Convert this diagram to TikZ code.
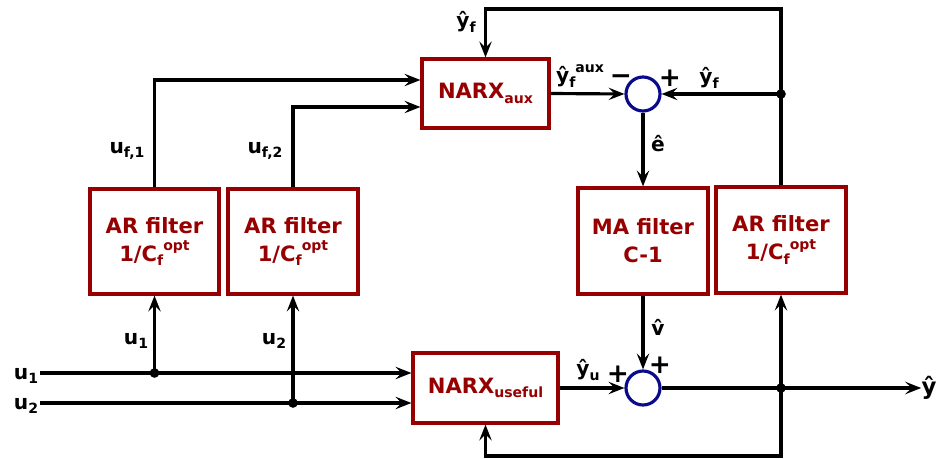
\documentclass[tikz,border=0pt]{standalone}
\usepackage{fontspec}
\setmainfont{DejaVu Sans}
\usetikzlibrary{arrows.meta}
\definecolor{boxred}{RGB}{150,0,0}
\definecolor{sumblue}{RGB}{10,10,140}
\newcommand\sbx[1]{\raisebox{-0.4ex}{\fontsize{8}{8}\selectfont #1}}
\newcommand\spx[1]{\raisebox{0.9ex}{\fontsize{8}{8}\selectfont #1}}
\begin{document}
\begin{tikzpicture}[x=0.02cm,y=-0.02cm,
  font=\bfseries,
  blk/.style={draw=boxred,line width=1.8pt,fill=white,text=boxred,font=\fontsize{12}{16}\selectfont\bfseries,align=center,inner sep=0pt},
  sumnode/.style={draw=sumblue,circle,line width=1.8pt,minimum size=0.68cm,inner sep=0pt},
  wire/.style={line width=1.8pt,line cap=butt},
  arr/.style={wire,-{Stealth[length=9pt,width=7pt,inset=3.5pt]}},
  lbl/.style={font=\fontsize{11.5}{12}\selectfont\bfseries,inner sep=0pt},
  sgn/.style={font=\fontsize{15}{15}\selectfont\bfseries,inner sep=0pt},
  dot/.style={circle,fill=black,inner sep=0pt,minimum size=5.5pt}]
\useasboundingbox (0,0) rectangle (940,459);

% blocks
\node[blk,minimum width=2.54cm,minimum height=1.38cm] (narxaux) at (485.5,93.5) {NARX\sbx{aux}};
\node[blk,minimum width=2.9cm,minimum height=1.4cm] (narxuse) at (485.5,388) {NARX\sbx{useful}};
\node[blk,minimum width=2.58cm,minimum height=2.1cm] (ar1) at (154.5,241.5) {AR filter\\1/C\sbx{f}\spx{opt}};
\node[blk,minimum width=2.6cm,minimum height=2.1cm] (ar2) at (293,241.5) {AR filter\\1/C\sbx{f}\spx{opt}};
\node[blk,minimum width=2.6cm,minimum height=2.12cm] (ma) at (643,241) {MA filter\\C-1};
\node[blk,minimum width=2.6cm,minimum height=2.12cm] (ar3) at (781,240) {AR filter\\1/C\sbx{f}\spx{opt}};
\node[sumnode] (sumtop) at (643,94) {};
\node[sumnode] (sumbot) at (643,388) {};

% coordinates
\coordinate (u1in) at (40,373);
\coordinate (u2in) at (40,403);
\coordinate (j1) at (ar1.south |- u1in);
\coordinate (j2) at (ar2.south |- u2in);
\coordinate (jtop) at (ar3.north |- sumtop);
\coordinate (jbot) at (ar3.south |- sumbot);
\coordinate (topR) at (781,9);
\coordinate (botR) at (781,456);
\node[lbl,font=\fontsize{13}{13}\selectfont\bfseries] (yout) at (929,388) {ŷ};

% wires
\draw[arr] (u1in) -- (narxuse.west |- u1in);
\draw[arr] (u2in) -- (narxuse.west |- u2in);
\draw[arr] (j1) -- (ar1.south);
\draw[arr] (j2) -- (ar2.south);
\draw[arr] (ar1.north) |- ([yshift=0.27cm]narxaux.west);
\draw[arr] (ar2.north) |- ([yshift=-0.27cm]narxaux.west);
\draw[arr] (narxaux.east) -- (sumtop.west);
\draw[arr] (ar3.north) -- (topR) -| (narxaux.north);
\draw[arr] (jtop) -- (sumtop.east);
\draw[arr] (sumtop.south) -- (ma.north);
\draw[arr] (ma.south) -- (sumbot.north);
\draw[arr] (narxuse.east) -- (sumbot.west);
\draw[arr] (sumbot.east) -- (yout.west);
\draw[arr] (jbot) -- (ar3.south);
\draw[arr] (jbot) -- (botR) -| (narxuse.south);

\node[dot] at (j1) {};
\node[dot] at (j2) {};
\node[dot] at (jtop) {};
\node[dot] at (jbot) {};

% labels
\node[lbl] at (466,22) {ŷ\sbx{f}};
\node[lbl] at (709,78) {ŷ\sbx{f}};
\node[lbl] at (580,76) {ŷ\sbx{f}\spx{aux}};
\node[sgn] at (621,80) {−};
\node[sgn] at (670,78) {+};
\node[lbl] at (658,144) {ê};
\node[lbl] at (127,151) {u\sbx{f,1}};
\node[lbl] at (265,151) {u\sbx{f,2}};
\node[lbl] at (26,376) {u\sbx{1}};
\node[lbl] at (26,406) {u\sbx{2}};
\node[lbl] at (136,341) {u\sbx{1}};
\node[lbl] at (274,341) {u\sbx{2}};
\node[lbl] at (588,370) {ŷ\sbx{u}};
\node[sgn] at (618,374) {+};
\node[sgn] at (660,365) {+};
\node[lbl] at (658,327) {v̂};
\end{tikzpicture}
\end{document}
